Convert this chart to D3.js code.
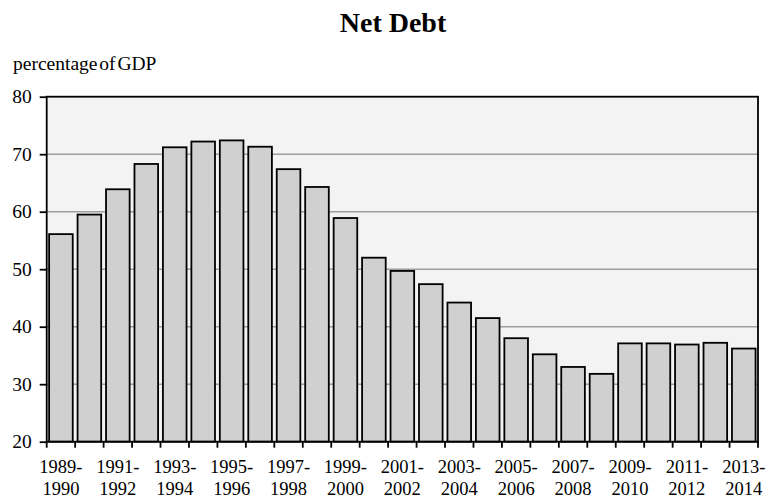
<!DOCTYPE html>
<html><head><meta charset="utf-8">
<script src="https://cdn.jsdelivr.net/npm/d3@7/dist/d3.min.js"></script>
<style>body{margin:0;background:#fff}svg{display:block}text{font-family:"Liberation Serif","Times New Roman",serif}</style>
</head><body>
<svg id="c" width="766" height="498"></svg>
<script>
const categories = ["1989-1990","1990-1991","1991-1992","1992-1993","1993-1994","1994-1995","1995-1996","1996-1997","1997-1998","1998-1999","1999-2000","2000-2001","2001-2002","2002-2003","2003-2004","2004-2005","2005-2006","2006-2007","2007-2008","2008-2009","2009-2010","2010-2011","2011-2012","2012-2013","2013-2014"];
const values = [56.1,59.5,63.9,68.3,71.2,72.2,72.4,71.3,67.4,64.3,58.9,52.0,49.7,47.4,44.2,41.5,38.0,35.2,33.0,31.8,37.1,37.1,36.9,37.2,36.2];
const yTicks = [20,30,40,50,60,70,80];
const title = "Net Debt";
const yLabel = "percentage of GDP";

const svg = d3.select("#c");
const L = 46.7, R = 758, T = 96.7, B = 441.7;
const x = d3.scaleBand().domain(categories).range([L, R]).paddingInner(0.17).paddingOuter(0.085);
const y = d3.scaleLinear().domain([20, 80]).range([B, T]);

svg.append("rect").attr("x", L).attr("y", T).attr("width", R - L).attr("height", B - T).attr("fill", "#f3f3f3");

svg.append("g").selectAll("line").data(yTicks.filter(d => d > 20 && d < 80)).join("line")
  .attr("x1", L).attr("x2", R).attr("y1", d => y(d)).attr("y2", d => y(d))
  .attr("stroke", "#9e9e9e").attr("stroke-width", 1.6);

svg.append("g").selectAll("rect").data(values).join("rect")
  .attr("x", (d, i) => x(categories[i]))
  .attr("y", d => y(d))
  .attr("width", x.bandwidth())
  .attr("height", d => B - y(d))
  .attr("fill", "#d0d0d0").attr("stroke", "#000").attr("stroke-width", 1.8);

svg.append("rect").attr("x", L).attr("y", T).attr("width", R - L).attr("height", B - T)
  .attr("fill", "none").attr("stroke", "#000").attr("stroke-width", 1.8);

// y axis
const ya = svg.append("g").attr("transform", `translate(${L},0)`)
  .call(d3.axisLeft(y).tickValues(yTicks).tickSize(7).tickPadding(8).tickFormat(d3.format("d")));
ya.select(".domain").remove();
ya.selectAll("line").attr("stroke", "#000").attr("stroke-width", 1.8);
ya.selectAll("text").attr("font-size", 19.5).attr("fill", "#000").style("font-family", '"Liberation Serif",serif');

// x axis ticks at band boundaries
const bounds = d3.range(categories.length + 1).map(i => L + i * (R - L) / categories.length);
svg.append("g").selectAll("line").data(bounds).join("line")
  .attr("x1", d => d).attr("x2", d => d).attr("y1", B).attr("y2", B + 6)
  .attr("stroke", "#000").attr("stroke-width", 1.8);

const lab = svg.append("g").selectAll("text").data(categories.filter((d, i) => i % 2 === 0)).join("text")
  .attr("x", d => x(d) + x.bandwidth() / 2)
  .attr("y", 473)
  .attr("text-anchor", "middle").attr("font-size", 18.5).attr("fill", "#000");
lab.append("tspan").attr("x", d => x(d) + x.bandwidth() / 2).text(d => d.split("-")[0] + "-");
lab.append("tspan").attr("x", d => x(d) + x.bandwidth() / 2).attr("dy", 22).text(d => d.split("-")[1]);

svg.append("text").attr("x", 393).attr("y", 32).attr("text-anchor", "middle")
  .attr("font-size", 28).attr("font-weight", "bold").text(title);
svg.append("text").attr("x", 13).attr("y", 70).attr("font-size", 19.5).attr("word-spacing", -3).text(yLabel);
</script>
</body></html>
